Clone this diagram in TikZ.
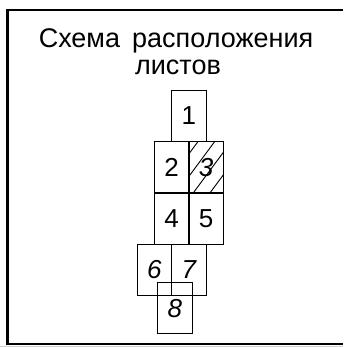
\documentclass[tikz,border=0pt]{standalone}
\usepackage{fontspec}
\setmainfont{Liberation Sans}
\usetikzlibrary{positioning}
\tikzset{
sheet/.style={
  draw,
  line width=#1,
  minimum width=34.6pt,
  minimum height=51.3pt,
  inner sep=0pt,
  outer sep=0pt,
  font=\fontsize{26}{26}\selectfont
  },
sheet/.default=1.4pt,
slanted/.style={
  font=\fontsize{26}{26}\selectfont\itshape
  },
title/.style={
  inner sep=0pt,
  anchor=base,
  font=\fontsize{27}{27}\selectfont
  },
frame/.style={
  line width=2.2pt
  },
hatch/.style={
  line width=0.9pt
  }
}
\begin{document}
\begin{tikzpicture}[x=1pt,y=1pt]

\useasboundingbox (0,0) rectangle (343,-347);

\draw[frame] (343,-10) -- (7.5,-10) -- (7.5,-344) -- (343,-344);
\draw[gray!35,line width=1pt] (0,-346.3) -- (343,-346.3);

\node[title] (ttl1) at (176,-48) {Схема\hspace{0.45em}расположения};
\node[title] (ttl2) at ([xshift=2pt,yshift=-27pt]ttl1.base) {листов};

\node[sheet] at (171.6,-167.35) (s2) {2};
\node[sheet,slanted,right=0pt of s2] (s3) {3};
\node[sheet=0.9pt,above=0pt of s2.north east] (s1) {1};
\node[sheet,below=0pt of s2] (s4) {4};
\node[sheet,below=0pt of s3] (s5) {5};

\node[sheet=0.9pt,slanted,below=0pt of s4.south east] (s7) {7};
\node[sheet=0.9pt,slanted,left=0pt of s7] (s6) {6};
\node[sheet=0.9pt,slanted,below=-13pt of s7.south west,xshift=3.2pt] (s8) {8};

\begin{scope}
\clip (s3.south west) rectangle (s3.north east);
\foreach \d in {-29,-12.3,4.3,21}
  \draw[hatch] ([xshift=\d pt]s3.south west) -- ++(40,54);
\end{scope}

\end{tikzpicture}
\end{document}
